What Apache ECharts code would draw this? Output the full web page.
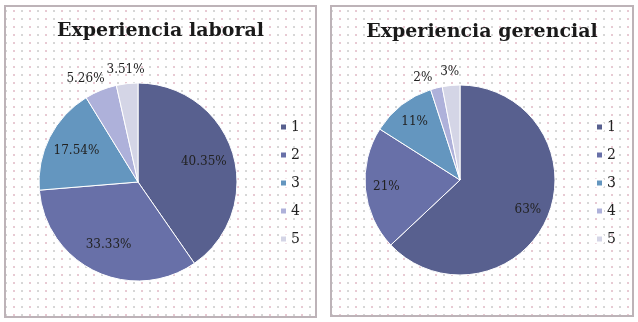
<!DOCTYPE html>
<html>
<head>
<meta charset="utf-8">
<script src="https://cdn.jsdelivr.net/npm/echarts@6/dist/echarts.min.js"></script>
<style>
  html, body { margin: 0; padding: 0; background: #fff; }
  body { width: 638px; height: 322px; position: relative; overflow: hidden; }
  .panel {
    position: absolute;
    border: 2px solid #bdb3b8;
    background-color: #fff;
    background-image:
      radial-gradient(circle, #e6c6d0 0.7px, transparent 0.8px),
      radial-gradient(circle, #d4d4d4 0.7px, transparent 0.8px);
    background-size: 16px 8px, 16px 8px;
    background-position: 0 0, 8px 0;
  }
  #left { left: 4px; top: 5px; width: 309px; height: 309px; }
  #right { left: 330px; top: 5px; width: 300px; height: 308px; }
</style>
</head>
<body>
<div id="left" class="panel"></div>
<div id="right" class="panel"></div>
<script>
const categories = ['1', '2', '3', '4', '5'];
const laboralValues = [40.35, 33.33, 17.54, 5.26, 3.51];
const gerencialValues = [63, 21, 11, 2, 3];
const sliceColors = ['#58608f', '#6870a8', '#6496bf', '#aeb1da', '#d4d5e6'];

const serifFont = '"DejaVu Serif", "Liberation Serif", serif';

// visible slices + two transparent pies that only carry the labels
// (inner ones at ~2/3 of the radius, small ones just outside the rim)
function buildOption(cfg) {
  const pieData = categories.map((name, i) => ({
    name,
    value: cfg.values[i],
    itemStyle: { color: sliceColors[i] },
  }));
  const labelData = (showInside) => categories.map((name, i) => ({
    name,
    value: cfg.values[i],
    label: {
      show: showInside ? i < 3 : i >= 3,
      offset: i === 3 && !showInside ? cfg.slice4Offset : [0, 0],
    },
  }));
  const labelSeries = (radius, showInside) => ({
    type: 'pie',
    center: cfg.center,
    radius: [0, radius],
    startAngle: 90,
    silent: true,
    animation: false,
    avoidLabelOverlap: false,
    labelLayout: { hideOverlap: false },
    itemStyle: { color: 'transparent', borderWidth: 0 },
    label: {
      position: 'inside',
      color: '#222',
      fontFamily: serifFont,
      fontSize: 12,
      formatter: (p) => p.value.toFixed(cfg.decimals) + '%',
    },
    labelLine: { show: false },
    emphasis: { disabled: true },
    data: labelData(showInside),
  });

  return {
    animation: false,
    title: {
      text: cfg.title,
      left: 'center',
      top: cfg.titleTop,
      textStyle: {
        fontFamily: serifFont,
        fontWeight: 'bold',
        fontSize: 19,
        color: '#1a1a1a',
      },
    },
    legend: {
      orient: 'vertical',
      left: cfg.legendLeft,
      top: 113,
      padding: 0,
      itemWidth: 7,
      itemHeight: 7,
      itemGap: 14,
      icon: 'rect',
      data: categories,
      textStyle: {
        fontFamily: serifFont,
        fontSize: 14,
        lineHeight: 14,
        color: '#222',
        padding: [0, 0, 0, -1],
      },
    },
    series: [
      {
        type: 'pie',
        center: cfg.center,
        radius: cfg.radius,
        startAngle: 90,
        silent: true,
        itemStyle: { borderColor: '#fff', borderWidth: 1 },
        label: { show: false },
        labelLine: { show: false },
        emphasis: { disabled: true },
        data: pieData,
      },
      labelSeries(cfg.insideR * 2, true),
      labelSeries(cfg.outsideR * 2, false),
    ],
  };
}

const leftChart = echarts.init(document.getElementById('left'));
leftChart.setOption(buildOption({
  title: 'Experiencia laboral',
  values: laboralValues,
  decimals: 2,
  center: [132, 175],
  radius: 99,
  insideR: 66,
  outsideR: 110,
  slice4Offset: [-10, 2],
  titleTop: 10,
  legendLeft: 273,
}));

const rightChart = echarts.init(document.getElementById('right'));
rightChart.setOption(buildOption({
  title: 'Experiencia gerencial',
  values: gerencialValues,
  decimals: 0,
  center: [128, 173],
  radius: 95,
  insideR: 71,
  outsideR: 106,
  slice4Offset: [-10, 3],
  titleTop: 11,
  legendLeft: 263,
}));

window.addEventListener('resize', () => {
  leftChart.resize();
  rightChart.resize();
});
</script>
</body>
</html>
